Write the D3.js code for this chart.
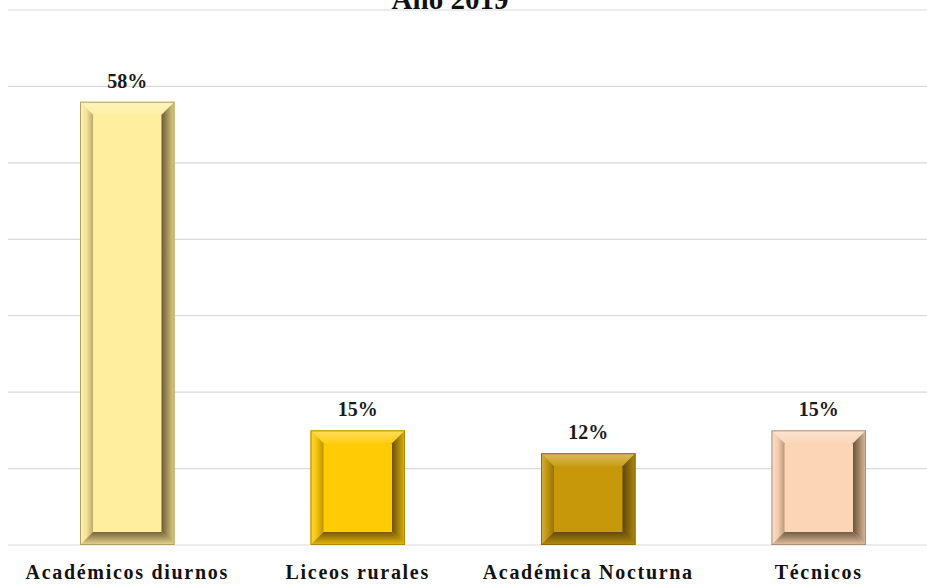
<!DOCTYPE html>
<html><head><meta charset="utf-8">
<script src="https://cdn.jsdelivr.net/npm/d3@7"></script>
<style>body{margin:0;background:#fff}svg{display:block}</style>
</head><body>
<script>
const categories = ["Académicos diurnos", "Liceos rurales", "Académica Nocturna", "Técnicos"];
const values = [58, 15, 12, 15];
const valueLabels = ["58%", "15%", "12%", "15%"];
const yTicks = [0, 10, 20, 30, 40, 50, 60, 70];
const colors = ["#FFEE9E", "#FFCB05", "#C6980A", "#FCD4B6"];
const title = "Año 2019";

const W = 927, H = 585;
const svg = d3.select("body").append("svg").attr("width", W).attr("height", H);
const defs = svg.append("defs");

const x = d3.scaleBand().domain(categories).range([12, 934]).paddingInner(0.59).paddingOuter(0.295);
const y = d3.scaleLinear().domain([0, 70]).range([545, 10]);

// gridlines
svg.append("g").selectAll("line").data(yTicks).join("line")
  .attr("x1", 8).attr("x2", W).attr("y1", d => y(d)).attr("y2", d => y(d))
  .attr("stroke", "#d9d9d9").attr("stroke-width", 1.2);

// title (cut at the top edge, as in the reference)
svg.append("text").attr("x", 450).attr("y", 9).attr("text-anchor", "middle")
  .attr("font-family", "Liberation Serif").attr("font-weight", "bold").attr("font-size", 29)
  .attr("fill", "#111").text(title);

function shade(c, k) { return k > 0 ? d3.interpolateRgb(c, "#fff")(k) : d3.interpolateRgb(c, "#3a2a10")(-k); }

const bw = x.bandwidth();
const bv = 13;
categories.forEach((cat, i) => {
  const c = colors[i];
  const x0 = x(cat), x1 = x0 + bw, y0 = y(values[i]), y1 = y(0);
  const gl = "gl" + i, gr = "gr" + i, gt = "gt" + i, gb = "gb" + i;
  const mk = (id, x1_, y1_, x2_, y2_, stops) => {
    const g = defs.append("linearGradient").attr("id", id).attr("x1", x1_).attr("y1", y1_).attr("x2", x2_).attr("y2", y2_);
    stops.forEach(s => g.append("stop").attr("offset", s[0]).attr("stop-color", s[1]));
  };
  mk(gl, 0, 0, 1, 0, [[0, shade(c, 0.25)], [0.5, shade(c, -0.05)], [1, shade(c, -0.35)]]);
  mk(gr, 0, 0, 1, 0, [[0, shade(c, -0.75)], [0.5, shade(c, -0.45)], [1, shade(c, -0.15)]]);
  mk(gt, 0, 0, 0, 1, [[0, shade(c, 0.35)], [1, shade(c, 0.05)]]);
  mk(gb, 0, 0, 0, 1, [[0, shade(c, -0.7)], [0.6, shade(c, -0.35)], [1, shade(c, -0.1)]]);
  const g = svg.append("g");
  g.append("rect").attr("x", x0).attr("y", y0).attr("width", bw).attr("height", y1 - y0).attr("fill", c);
  const pts = a => a.map(p => p.join(",")).join(" ");
  g.append("polygon").attr("points", pts([[x0, y0], [x1, y0], [x1 - bv, y0 + bv], [x0 + bv, y0 + bv]])).attr("fill", `url(#${gt})`);
  g.append("polygon").attr("points", pts([[x0, y0], [x0 + bv, y0 + bv], [x0 + bv, y1 - bv], [x0, y1]])).attr("fill", `url(#${gl})`);
  g.append("polygon").attr("points", pts([[x1, y0], [x1, y1], [x1 - bv, y1 - bv], [x1 - bv, y0 + bv]])).attr("fill", `url(#${gr})`);
  g.append("polygon").attr("points", pts([[x0, y1], [x0 + bv, y1 - bv], [x1 - bv, y1 - bv], [x1, y1]])).attr("fill", `url(#${gb})`);
  g.append("rect").attr("x", x0 + 0.5).attr("y", y0 + 0.5).attr("width", bw - 1).attr("height", y1 - y0 - 1)
    .attr("fill", "none").attr("stroke", shade(c, -0.4)).attr("stroke-width", 1);
  svg.append("text").attr("x", x0 + bw / 2).attr("y", y0 - 14).attr("text-anchor", "middle")
    .attr("font-family", "Liberation Serif").attr("font-weight", "bold").attr("font-size", 20)
    .attr("fill", "#1a1a1a").text(valueLabels[i]);
  svg.append("text").attr("x", x0 + bw / 2).attr("y", 579).attr("text-anchor", "middle")
    .attr("font-family", "Liberation Serif").attr("font-weight", "bold").attr("font-size", 20)
    .attr("letter-spacing", 1.7)
    .attr("fill", "#111").text(cat);
});
</script>
</body></html>
